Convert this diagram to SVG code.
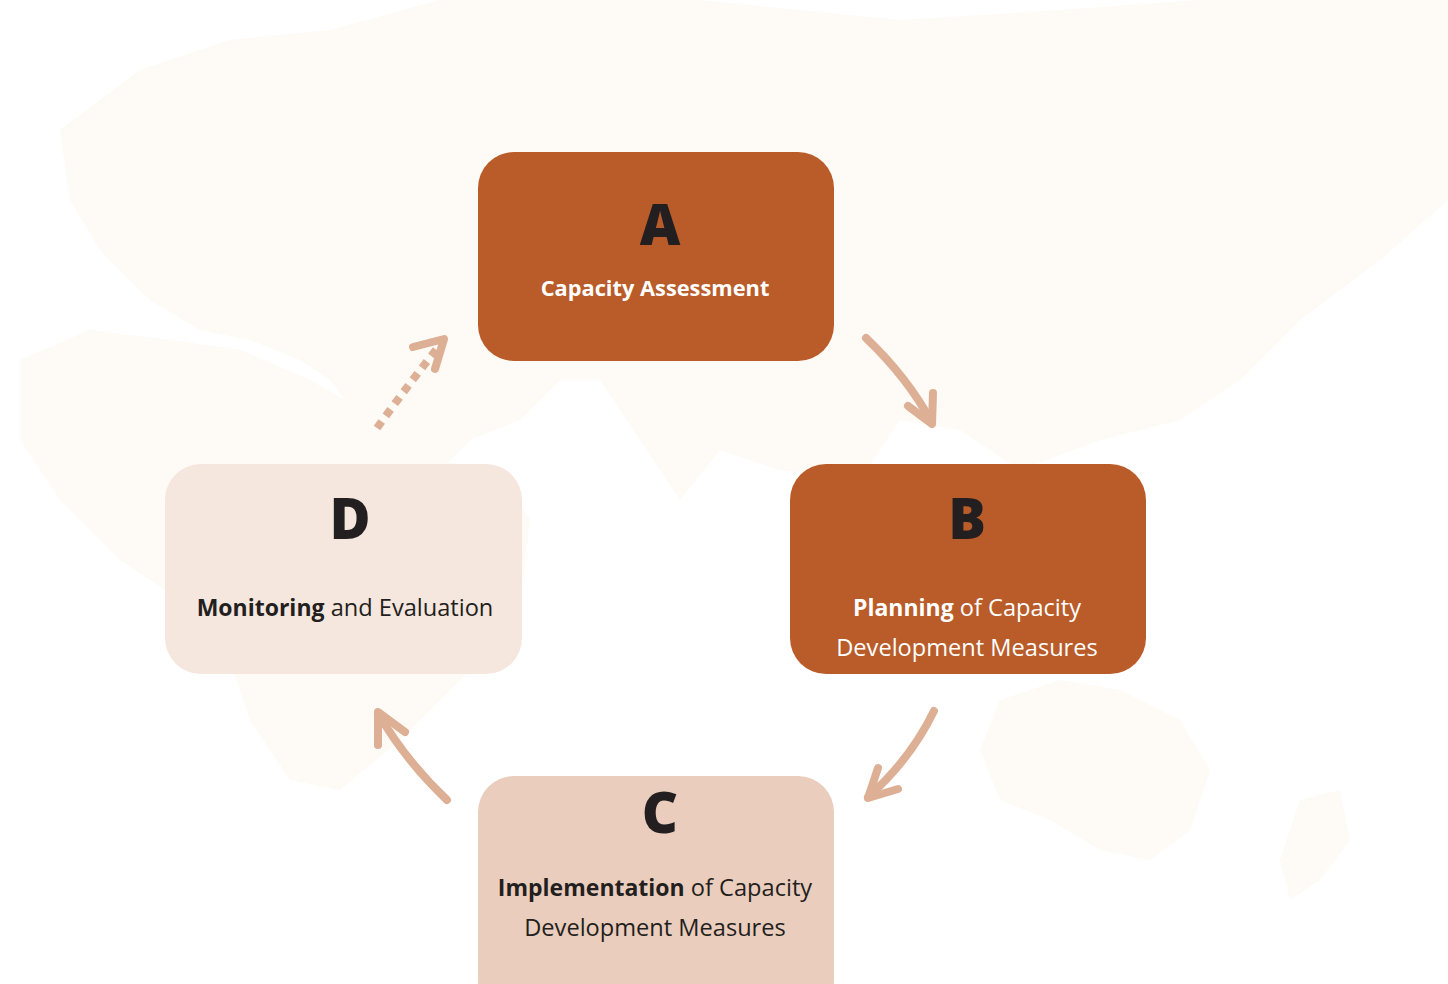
<svg xmlns="http://www.w3.org/2000/svg" width="1448" height="984" viewBox="0 0 1448 984">
<defs>
<style>
.map{fill:#fefaf5;stroke:none}
.box-dark{fill:#b95c29}
.box-mid{fill:#eacdbc}
.box-light{fill:#f5e6de}
.letter{font-family:"Open Sans","Noto Sans",sans-serif;font-weight:800;font-size:56px;fill:#231f20;text-anchor:middle}
.lbl{font-family:"Open Sans","Noto Sans",sans-serif;font-size:23.6px;text-anchor:middle}
.w{fill:#ffffff}
.k{fill:#231f20}
.b{font-weight:700;font-size:23px}
.ttl{font-size:21.8px}
.arrow{fill:none;stroke:#ddb096;stroke-width:8;stroke-linecap:round;stroke-linejoin:round}
.dots{fill:none;stroke:#ddb096;stroke-width:8;stroke-dasharray:8 7}
</style>
</defs>
<rect width="1448" height="984" fill="#ffffff"/>
<g id="map">
<path class="map" d="M60,130 L140,70 L230,40 L330,30 L440,0 L700,0 L900,20 L1060,10 L1200,0 L1448,0 L1448,200 L1380,260 L1300,320 L1240,380 L1180,420 L1100,440 L1020,470 L960,430 L900,420 L860,480 L780,470 L720,450 L680,500 L640,440 L600,380 L560,380 L520,420 L470,440 L440,470 L400,460 L360,420 L330,380 L300,360 L250,340 L200,330 L150,300 L100,250 L70,200 Z"/>
<path class="map" d="M20,360 L90,330 L170,340 L240,350 L310,380 L380,420 L430,460 L500,470 L530,520 L520,600 L480,660 L440,700 L400,740 L340,790 L290,780 L250,720 L230,660 L180,600 L120,560 L60,500 L20,440 Z"/>
<path class="map" d="M1000,700 L1060,680 L1120,690 L1180,720 L1210,770 L1190,830 L1150,860 L1100,850 L1050,820 L1000,800 L980,750 Z"/>
<path class="map" d="M1300,800 L1340,790 L1350,840 L1320,880 L1290,900 L1280,860 Z"/>
</g>
<g id="connectors">
<path class="arrow" d="M866,338 Q908,378 932,423"/>
<path class="arrow" d="M908,406 L932,424 L933,393"/>
<path class="arrow" d="M934,711 Q910,760 868,797"/>
<path class="arrow" d="M878,768 L868,798 L898,789"/>
<path class="arrow" d="M447,800 Q405,760 378,713"/>
<path class="arrow" d="M378,745 L378,712 L405,732"/>
<path class="dots" d="M377,428 Q408,385 440,345"/>
<path class="arrow" d="M413,347 L444,339 L435,369"/>
</g>
<g id="node-a">
<rect class="box-dark" x="478" y="152" width="356" height="209" rx="36"/>
<text class="letter" x="660" y="245">A</text>
<text class="lbl w b ttl" x="655" y="296">Capacity Assessment</text>
</g>
<g id="node-b">
<rect class="box-dark" x="790" y="464" width="356" height="210" rx="36"/>
<text class="letter" x="967" y="539">B</text>
<text class="lbl w" x="967" y="616"><tspan class="b">Planning</tspan> of Capacity</text>
<text class="lbl w" x="967" y="656">Development Measures</text>
</g>
<g id="node-c">
<rect class="box-mid" x="478" y="776" width="356" height="240" rx="36"/>
<text class="letter" x="660" y="833">C</text>
<text class="lbl k" x="655" y="896"><tspan class="b">Implementation</tspan> of Capacity</text>
<text class="lbl k" x="655" y="936">Development Measures</text>
</g>
<g id="node-d">
<rect class="box-light" x="165" y="464" width="357" height="210" rx="36"/>
<text class="letter" x="350" y="539">D</text>
<text class="lbl k" x="345" y="616"><tspan class="b">Monitoring</tspan> and Evaluation</text>
</g>
</svg>
